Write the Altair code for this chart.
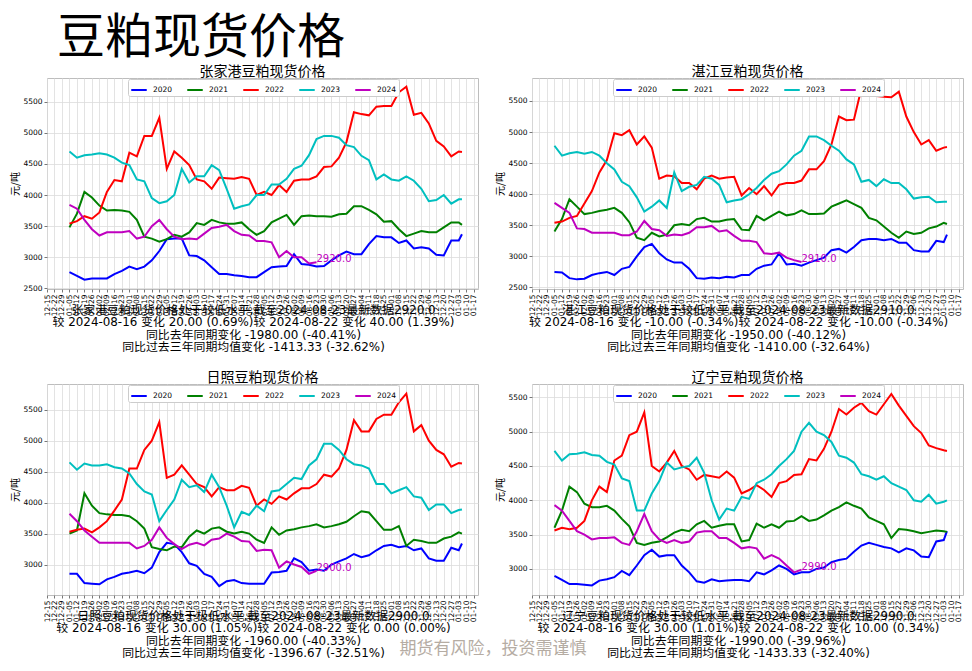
import altair as alt
import pandas as pd

YEARS = ["2020", "2021", "2022", "2023", "2024"]
COLORS = ["#0000ff", "#008000", "#ff0000", "#00bfbf", "#bf00bf"]

# weekly observation dates on a common (2024) calendar, plus the final day
WEEKS = [d.strftime("%Y-%m-%dT00:00:00Z") for d in pd.date_range("2024-01-05", periods=53, freq="7D")] + ["2025-01-06T00:00:00Z"]
TICK_DATES = list(pd.date_range("2023-12-15", "2025-01-17", freq="7D"))

# 张家港
ZJG_2020 = [2760, 2700, 2640, 2660, 2660, 2660, 2730, 2780, 2850, 2810, 2850, 2950, 3100, 3290, 3300, 3300, 3030, 3020, 2950, 2840, 2730, 2730, 2710, 2700, 2680, 2680, 2760, 2840, 2850, 2860, 3050, 2890, 2880, 2850, 2860, 2950, 3030, 3090, 3050, 3050, 3210, 3340, 3320, 3320, 3230, 3270, 3140, 3160, 3140, 3040, 3030, 3270, 3270, 3370]
ZJG_2021 = [3480, 3700, 4050, 3960, 3830, 3750, 3760, 3750, 3730, 3600, 3330, 3300, 3250, 3290, 3360, 3330, 3400, 3550, 3520, 3600, 3560, 3540, 3540, 3560, 3450, 3360, 3420, 3560, 3620, 3680, 3520, 3660, 3670, 3660, 3660, 3650, 3690, 3700, 3820, 3820, 3760, 3690, 3570, 3580, 3450, 3340, 3380, 3420, 3400, 3400, 3480, 3560, 3560, 3520]
ZJG_2022 = [3540, 3580, 3660, 3620, 3720, 4050, 4240, 4220, 4680, 4620, 4950, 4950, 5240, 4420, 4700, 4600, 4480, 4250, 4220, 4100, 4280, 4270, 4260, 4290, 4260, 4000, 4050, 4000, 4160, 4050, 4230, 4250, 4250, 4300, 4450, 4460, 4600, 4850, 5330, 5300, 5280, 5420, 5430, 5430, 5650, 5740, 5290, 5320, 5150, 4870, 4780, 4620, 4700, 4690]
ZJG_2023 = [4700, 4600, 4640, 4650, 4670, 4650, 4600, 4520, 4480, 4250, 4220, 3950, 3870, 3900, 4000, 4420, 4200, 4300, 4300, 4480, 4400, 4100, 3780, 3820, 3850, 4000, 4000, 4170, 4170, 4260, 4420, 4470, 4640, 4900, 4950, 4950, 4920, 4800, 4770, 4630, 4560, 4250, 4330, 4250, 4230, 4300, 4230, 4100, 3900, 3920, 4000, 3860, 3930, 3930]
ZJG_2024 = [3840, 3780, 3600, 3450, 3350, 3400, 3400, 3400, 3420, 3300, 3330, 3500, 3600, 3450, 3330, 3290, 3300, 3290, 3380, 3470, 3490, 3520, 3420, 3360, 3350, 3260, 3260, 3240, 3000, 3100, 3000, 3000, 2900, 2920]

# 湛江
ZJ_2020 = [2750, 2740, 2650, 2630, 2640, 2700, 2730, 2750, 2700, 2800, 2830, 3000, 3150, 3200, 3050, 2950, 2900, 2900, 2800, 2650, 2640, 2660, 2650, 2670, 2660, 2700, 2700, 2800, 2850, 2870, 3050, 2870, 2880, 2850, 2900, 2940, 2980, 3100, 3120, 3060, 3150, 3260, 3280, 3280, 3260, 3280, 3220, 3220, 3100, 3080, 3080, 3250, 3230, 3350]
ZJ_2021 = [3400, 3600, 3920, 3800, 3680, 3700, 3730, 3750, 3780, 3700, 3550, 3300, 3260, 3380, 3320, 3350, 3500, 3520, 3500, 3600, 3620, 3560, 3560, 3590, 3600, 3430, 3420, 3650, 3580, 3650, 3720, 3660, 3680, 3740, 3680, 3680, 3690, 3800, 3850, 3900, 3840, 3780, 3620, 3580, 3480, 3380, 3300, 3400, 3360, 3380, 3450, 3480, 3540, 3520]
ZJ_2022 = [3540, 3560, 3620, 3650, 3850, 4050, 4350, 4550, 4980, 4950, 5030, 4800, 4930, 4750, 4250, 4300, 4290, 4180, 4180, 4080, 4250, 4300, 4250, 4270, 4280, 3980, 4100, 4000, 4130, 3980, 4150, 4180, 4180, 4220, 4400, 4400, 4530, 4800, 5250, 5190, 5200, 5700, 5600, 5580, 5570, 5560, 5650, 5250, 5000, 4800, 4870, 4700, 4750, 4760]
ZJ_2023 = [4780, 4620, 4660, 4680, 4650, 4680, 4620, 4500, 4400, 4200, 4130, 3950, 3720, 3800, 3900, 3780, 4350, 4050, 4120, 4150, 4280, 4250, 4150, 3870, 3900, 3920, 4000, 4100, 4230, 4330, 4370, 4480, 4620, 4700, 4930, 4930, 4870, 4780, 4700, 4560, 4480, 4200, 4230, 4130, 4240, 4180, 4180, 4080, 3930, 3950, 3960, 3870, 3880, 3880]
ZJ_2024 = [3860, 3780, 3700, 3450, 3440, 3380, 3380, 3380, 3380, 3340, 3340, 3400, 3570, 3440, 3420, 3330, 3350, 3340, 3380, 3470, 3470, 3490, 3400, 3420, 3330, 3250, 3250, 3230, 3050, 3040, 3060, 2980, 2940, 2910]

# 日照
RZ_2020 = [2850, 2850, 2700, 2690, 2680, 2760, 2800, 2850, 2870, 2900, 2860, 2950, 3200, 3350, 3330, 3200, 3020, 2980, 2850, 2800, 2650, 2730, 2750, 2700, 2690, 2690, 2690, 2870, 2880, 2900, 3100, 3040, 2900, 2920, 2900, 3000, 3050, 3100, 3170, 3120, 3150, 3230, 3300, 3320, 3280, 3300, 3230, 3260, 3100, 3060, 3060, 3270, 3230, 3340]
RZ_2021 = [3500, 3550, 4150, 3950, 3830, 3810, 3800, 3800, 3780, 3700, 3580, 3280, 3250, 3230, 3290, 3280, 3450, 3550, 3500, 3580, 3600, 3530, 3500, 3530, 3500, 3400, 3350, 3600, 3480, 3550, 3570, 3600, 3620, 3650, 3600, 3620, 3650, 3690, 3780, 3860, 3840, 3700, 3560, 3560, 3620, 3300, 3400, 3380, 3350, 3350, 3420, 3450, 3520, 3500]
RZ_2022 = [3530, 3560, 3580, 3520, 3600, 3700, 3870, 4050, 4550, 4550, 4850, 5000, 5300, 4400, 4450, 4600, 4450, 4300, 4250, 4100, 4250, 4200, 4200, 4270, 4240, 3950, 4050, 3980, 4100, 4050, 4150, 4230, 4230, 4300, 4450, 4420, 4550, 4850, 5330, 5150, 5150, 5350, 5420, 5420, 5620, 5760, 5150, 5250, 5000, 4850, 4780, 4580, 4640, 4630]
RZ_2023 = [4650, 4530, 4630, 4600, 4600, 4620, 4570, 4550, 4470, 4300, 4180, 4130, 3700, 3880, 4050, 4370, 4250, 4280, 4170, 4450, 4250, 3950, 3600, 3850, 3800, 3950, 3860, 4180, 4200, 4300, 4400, 4380, 4600, 4700, 4950, 4950, 4850, 4700, 4620, 4600, 4550, 4300, 4300, 4150, 4200, 4250, 4100, 4080, 3880, 3970, 3970, 3830, 3880, 3890]
RZ_2024 = [3820, 3700, 3550, 3450, 3350, 3350, 3350, 3350, 3350, 3260, 3300, 3400, 3600, 3430, 3330, 3250, 3320, 3350, 3310, 3400, 3420, 3500, 3450, 3380, 3370, 3220, 3240, 3230, 2950, 3050, 3000, 2960, 2850, 2900]

# 辽宁
LN_2020 = [2900, 2840, 2780, 2780, 2770, 2760, 2830, 2850, 2880, 2970, 2910, 3050, 3200, 3280, 3180, 3200, 3200, 3050, 2950, 2820, 2800, 2850, 2820, 2830, 2840, 2840, 2820, 2950, 2920, 2980, 3050, 3000, 2920, 2950, 2950, 3000, 3020, 3100, 3130, 3150, 3250, 3340, 3380, 3350, 3320, 3300, 3240, 3300, 3270, 3180, 3170, 3400, 3420, 3550]
LN_2021 = [3600, 3850, 4200, 4120, 3950, 3900, 3900, 3920, 3850, 3730, 3620, 3380, 3350, 3380, 3400, 3460, 3530, 3570, 3550, 3650, 3700, 3600, 3630, 3650, 3650, 3400, 3420, 3660, 3600, 3650, 3600, 3690, 3700, 3770, 3700, 3720, 3780, 3850, 3900, 3970, 3920, 3880, 3750, 3700, 3650, 3450, 3580, 3570, 3550, 3520, 3540, 3560, 3550, 3540]
LN_2022 = [3560, 3600, 3580, 3600, 3700, 4000, 4200, 4120, 4580, 4650, 4950, 5000, 5280, 4500, 4420, 4550, 4720, 4500, 4450, 4300, 4370, 4350, 4330, 4420, 4330, 4100, 4150, 4220, 4150, 4050, 4250, 4280, 4370, 4380, 4600, 4580, 4750, 5000, 5330, 5250, 5350, 5420, 5300, 5250, 5400, 5550, 5380, 5230, 5080, 4980, 4800, 4760, 4730, 4720]
LN_2023 = [4720, 4580, 4670, 4680, 4700, 4660, 4650, 4560, 4520, 4320, 4280, 3850, 3850, 4100, 4280, 4550, 4450, 4480, 4500, 4620, 4400, 4000, 3720, 3880, 3850, 4050, 4020, 4250, 4300, 4380, 4500, 4600, 4720, 5000, 5130, 5000, 4950, 4850, 4650, 4620, 4550, 4380, 4350, 4300, 4350, 4250, 4200, 4150, 4000, 3980, 4080, 3950, 3980, 4000]
LN_2024 = [3930, 3850, 3700, 3550, 3500, 3430, 3450, 3450, 3460, 3380, 3350, 3550, 3800, 3550, 3430, 3380, 3420, 3380, 3400, 3530, 3550, 3550, 3450, 3450, 3380, 3300, 3320, 3300, 3150, 3200, 3150, 3050, 2950, 2990]

INFO_ZJG = ["张家港豆粕现货价格处于较低水平,截至2024-08-23最新数据2920.0",
            "较 2024-08-16 变化 20.00 (0.69%)较 2024-08-22 变化 40.00 (1.39%)",
            "同比去年同期变化 -1980.00 (-40.41%)",
            "同比过去三年同期均值变化 -1413.33 (-32.62%)"]
INFO_ZJ = ["湛江豆粕现货价格处于较低水平,截至2024-08-23最新数据2910.0",
           "较 2024-08-16 变化 -10.00 (-0.34%)较 2024-08-22 变化 -10.00 (-0.34%)",
           "同比去年同期变化 -1950.00 (-40.12%)",
           "同比过去三年同期均值变化 -1410.00 (-32.64%)"]
INFO_RZ = ["日照豆粕现货价格处于极低水平,截至2024-08-23最新数据2900.0",
           "较 2024-08-16 变化 30.00 (1.05%)较 2024-08-22 变化 0.00 (0.00%)",
           "同比去年同期变化 -1960.00 (-40.33%)",
           "同比过去三年同期均值变化 -1396.67 (-32.51%)"]
INFO_LN = ["辽宁豆粕现货价格处于较低水平,截至2024-08-23最新数据2990.0",
           "较 2024-08-16 变化 30.00 (1.01%)较 2024-08-22 变化 10.00 (0.34%)",
           "同比去年同期变化 -1990.00 (-39.96%)",
           "同比过去三年同期均值变化 -1433.33 (-32.40%)"]

W, H = 431, 211
CJK = "Noto Sans CJK SC"
MIX = "DejaVu Sans, Noto Sans CJK SC"


def ms(ts):
    return int(pd.Timestamp(ts).tz_localize("UTC").timestamp() * 1000)


X_TICKS = [ms(t) for t in TICK_DATES]
X_DOMAIN = [ms("2023-12-15"), ms("2025-01-21")]


def panel(title, series, ydom, yticks, info, last_label, extra=None):
    rows = []
    for yr, vals in zip(YEARS, series):
        for d, v in zip(WEEKS, vals):
            rows.append({"date": d, "year": yr, "price": v})
    df = pd.DataFrame(rows)

    x = alt.X("date:T", scale=alt.Scale(type="utc", domain=X_DOMAIN),
              axis=alt.Axis(values=X_TICKS, format="%m-%d", labelAngle=270, labelOverlap=False,
                            labelFontSize=7.5, title=None, grid=True, labelBound=False,
                            labelFlush=False))
    y = alt.Y("price:Q", scale=alt.Scale(domain=ydom, nice=False, zero=False),
              axis=alt.Axis(values=yticks, format="d", title="元/吨", grid=True,
                            labelOverlap=False, labelBound=False, labelFlush=False,
                            tickCount=len(yticks)))
    color = alt.Color("year:N", scale=alt.Scale(domain=YEARS, range=COLORS),
                      legend=alt.Legend(orient="none", legendX=81, legendY=1, direction="horizontal",
                                        title=None, symbolType="stroke", symbolSize=240,
                                        symbolStrokeWidth=2, labelFontSize=7.5, labelFont="DejaVu Sans",
                                        labelColor="black", padding=2, strokeColor="#cccccc",
                                        fillColor="white", columnPadding=10, cornerRadius=2,
                                        labelOffset=5))
    lines = alt.Chart(df).mark_line(strokeWidth=2, clip=True).encode(x=x, y=y, color=color)

    last = df[df.year == "2024"].iloc[-1]
    lab_df = pd.DataFrame([{"date": last["date"], "price": last["price"], "t": last_label}])
    lab = alt.Chart(lab_df).mark_text(align="left", baseline="alphabetic", fontSize=10,
                                      color="#bf00bf", font="DejaVu Sans").encode(
        x=x, y=y, text="t:N")

    head = alt.Chart(pd.DataFrame({"t": [title]})).mark_text(
        align="center", baseline="middle", fontSize=14, font=CJK, color="black").encode(
        x=alt.value(W / 2), y=alt.value(-6), text="t:N")

    txt = alt.Chart(pd.DataFrame({"t": ["\n".join(info)]})).mark_text(
        lineBreak="\n", align="center", baseline="top", fontSize=11.9, lineHeight=12.4,
        font=MIX, color="black").encode(x=alt.value(W / 2 - 9), y=alt.value(H + 16), text="t:N")

    layers = [lines, lab, head, txt]
    if extra is not None:
        layers += extra
    return alt.layer(*layers).properties(width=W, height=H)


big_title = alt.Chart(pd.DataFrame({"t": ["豆粕现货价格"]})).mark_text(
    align="left", baseline="alphabetic", fontSize=48, font=CJK, color="black").encode(
    x=alt.value(10), y=alt.value(-25), text="t:N")

watermark = alt.Chart(pd.DataFrame({"t": ["期货有风险，投资需谨慎"]})).mark_text(
    align="center", baseline="middle", fontSize=17, font=CJK, color="#b5aca3").encode(
    x=alt.value(446), y=alt.value(265), text="t:N")

Y_FULL = [2500, 3000, 3500, 4000, 4500, 5000, 5500]
Y_UP = [3000, 3500, 4000, 4500, 5000, 5500]

p1 = panel("张家港豆粕现货价格", [ZJG_2020, ZJG_2021, ZJG_2022, ZJG_2023, ZJG_2024],
           [2490, 5880], Y_FULL, INFO_ZJG, "2920.0", extra=[big_title])
p2 = panel("湛江豆粕现货价格", [ZJ_2020, ZJ_2021, ZJ_2022, ZJ_2023, ZJ_2024],
           [2475, 5870], Y_FULL, INFO_ZJ, "2910.0")
p3 = panel("日照豆粕现货价格", [RZ_2020, RZ_2021, RZ_2022, RZ_2023, RZ_2024],
           [2508, 5915], Y_UP, INFO_RZ, "2900.0", extra=[watermark])
p4 = panel("辽宁豆粕现货价格", [LN_2020, LN_2021, LN_2022, LN_2023, LN_2024],
           [2620, 5695], Y_UP, INFO_LN, "2990.0")

chart = alt.concat(p1, p2, p3, p4, columns=2, bounds="flush",
                   spacing={"row": 95, "column": 54}).resolve_scale(
    x="independent", y="independent", color="independent").resolve_legend(
    color="independent").resolve_axis(x="independent", y="independent").properties(
    padding={"left": 2, "top": 6, "right": 0, "bottom": 0},
    background="white",
).configure_view(stroke="#bdbdbd", strokeWidth=1).configure_axis(
    gridColor="#dcdcdc", gridWidth=0.8, domain=False, tickColor="#777777", tickSize=3,
    labelColor="black", labelFont="DejaVu Sans", labelFontSize=7.5, labelPadding=2,
    titleFont=CJK, titleFontSize=10, titleFontWeight="normal", titleColor="black", titlePadding=2
).configure_axisY(labelOverlap=False)

chart.save("out.html", embed_options={"renderer": "svg", "actions": False})
